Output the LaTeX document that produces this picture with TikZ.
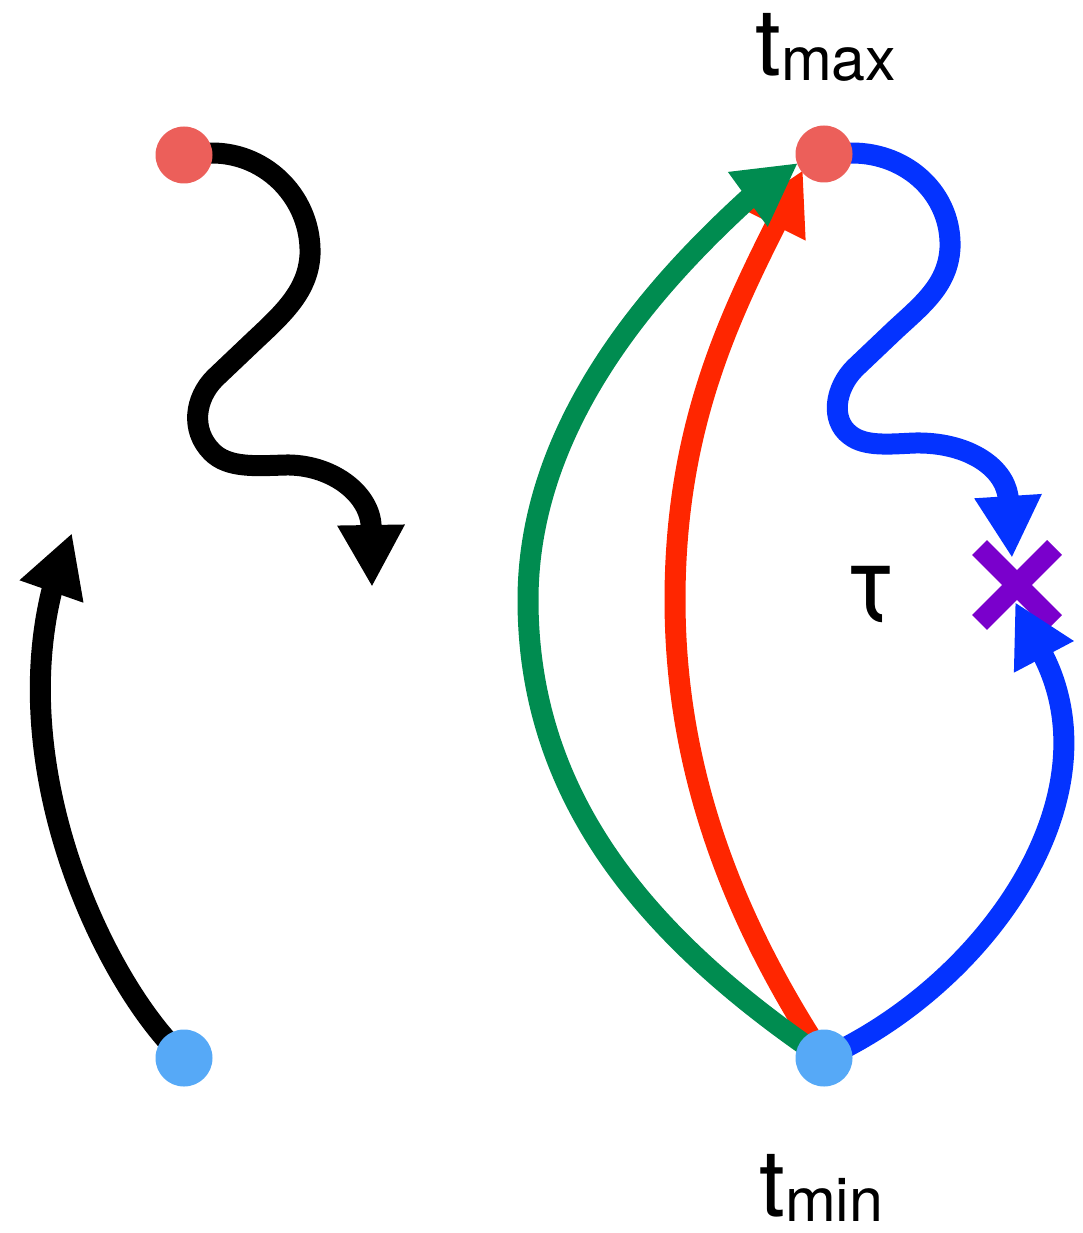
\documentclass[tikz,border=0pt]{standalone}
\usepackage{fontspec}
\setmainfont{TeX Gyre Heros}
\usetikzlibrary{arrows.meta,shapes.misc,backgrounds}
\definecolor{dotred}{HTML}{EC5F5A}
\definecolor{dotblue}{HTML}{56A9F7}
\definecolor{pgreen}{HTML}{008C50}
\definecolor{pred}{HTML}{FF2600}
\definecolor{pblue}{HTML}{0433FF}
\definecolor{xpurple}{HTML}{7A00CC}
\begin{document}
\begin{tikzpicture}[x=1pt,y=-1pt,
  dot/.style={circle,fill=#1,minimum size=57pt,inner sep=0pt},
  conn/.style={draw=#1,line width=21pt,line join=round,-{Triangle[length=62pt,width=63pt]}},
  lbl/.style={inner sep=0pt,anchor=base west}]
\useasboundingbox (0,0) rectangle (1083,1233);
% dots
\node[dot=dotred]  (tl) at (184,155) {};
\node[dot=dotblue] (bl) at (184,1058) {};
\node[dot=dotred]  (tr) at (824,154) {};
\node[dot=dotblue] (br) at (824,1058) {};
% labels
\node[lbl] (tmaxlbl) at (755,76) {{\fontsize{93}{93}\selectfont t}\raisebox{-5pt}{\fontsize{61}{61}\selectfont max}};
\node[lbl] (tminlbl) at (759,1216) {{\fontsize{93}{93}\selectfont t}\raisebox{-5pt}{\fontsize{61}{61}\selectfont min}};
\node[inner sep=0pt,anchor=base] (taulbl) at (871,621) {\fontsize{106}{106}\selectfont τ};
% end coordinates
\coordinate (wend) at (372,587);
\coordinate (aend) at (72,533);
\begin{pgfonlayer}{background}
\draw[conn=black] (tl.center) -- (212,153)
  .. controls (268,153) and (312,200) .. (310,255)
  .. controls (308,290) and (285,312) .. (255,340)
  -- (215,378)
  .. controls (195,398) and (190,430) .. (212,452)
  .. controls (228,468) and (255,466) .. (285,465)
  .. controls (330,464) and (368,492) .. (371,524)
  -- (wend);
\draw[conn=black] (bl.center) .. controls (110,990) and (5,780) .. (52,590) -- (aend);
\draw[conn=pred] (br.center) .. controls (740,930) and (675,780) .. (675,600)
  .. controls (675,430) and (728,320) .. (776,224) -- ([shift={(-21,16)}]tr.center);
\draw[conn=pgreen] (br.center) .. controls (650,940) and (528,800) .. (528,600)
  .. controls (528,420) and (660,280) .. (747,200) -- ([shift={(-26,9)}]tr.center);
\node[cross out,draw=xpurple,line width=21pt,minimum size=54pt,inner sep=0pt] (x) at (1017,585) {};
\draw[conn=pblue] (tr.center) -- (852,153)
  .. controls (908,153) and (952,195) .. (950,248)
  .. controls (948,285) and (922,305) .. (895,330)
  -- (855,368)
  .. controls (835,388) and (830,420) .. (850,435)
  .. controls (865,447) and (890,444) .. (915,443)
  .. controls (965,442) and (1003,465) .. (1008,496)
  -- ([shift={(-5,-27)}]x.center);
\draw[conn=pblue] (br.center) .. controls (985,985) and (1115,800) .. (1044,657)
  -- ([shift={(-2,17)}]x.center);
\end{pgfonlayer}
\end{tikzpicture}
\end{document}
